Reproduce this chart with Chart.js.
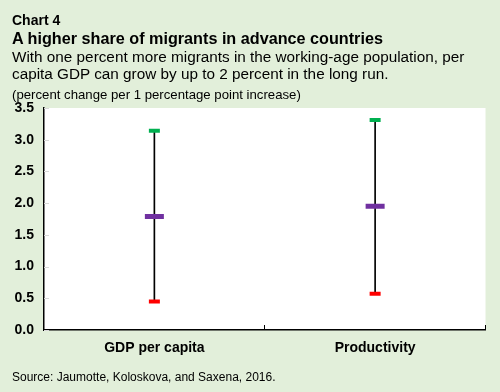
<!DOCTYPE html>
<html>
<head>
<meta charset="utf-8">
<script src="https://cdn.jsdelivr.net/npm/chart.js@4.4.0/dist/chart.umd.min.js"></script>
<style>
  body { margin: 0; background: #e2efda; font-family: "Liberation Sans", Arial, sans-serif; color: #000; }
  #page { position: relative; width: 500px; height: 392px; overflow: hidden; }
  .txt { position: absolute; left: 12px; white-space: nowrap; }
  #kicker { top: 12px; font-size: 14px; font-weight: bold; }
  #title { top: 29px; font-size: 16.2px; font-weight: bold; }
  #sub { top: 48px; font-size: 15.3px; line-height: 17px; }
  #units { top: 87px; font-size: 13.2px; }
  #source { top: 370px; font-size: 12px; }
  #wrap { position: absolute; left: 0; top: 0; width: 500px; height: 392px; }
</style>
</head>
<body>
<div id="page">
  <div id="wrap"><canvas id="chart"></canvas></div>
  <div class="txt" id="kicker">Chart 4</div>
  <div class="txt" id="title">A higher share of migrants in advance countries</div>
  <div class="txt" id="sub">With one percent more migrants in the working-age population, per<br>capita GDP can grow by up to 2 percent in the long run.</div>
  <div class="txt" id="units">(percent change per 1 percentage point increase)</div>
  <div class="txt" id="source">Source: Jaumotte, Koloskova, and Saxena, 2016.</div>
</div>
<script>
        const categories = ['GDP per capita', 'Productivity'];
        const upperBound = [3.14, 3.31];
        const estimate = [1.79, 1.95];
        const lowerBound = [0.45, 0.57];
        const yTicks = [0, 0.5, 1, 1.5, 2, 2.5, 3, 3.5];

        const plotBackground = 
        {
            id: 'plotBackground',
            beforeDraw(chart) 
            {
                const { ctx, chartArea: a } = chart;
                ctx.save();
                ctx.fillStyle = '#ffffff';
                ctx.fillRect(a.left, a.top, a.right - a.left, a.bottom - a.top);
                ctx.restore();
            },
            afterDraw(chart) 
            {
                // small inward tick marks like the original
                const { ctx, chartArea: a, scales } = chart;
                ctx.save();
                ctx.lineWidth = 1;
                ctx.strokeStyle = '#d8d8d8';
                yTicks.forEach(v => 
                {
                    const y = Math.round(scales.y.getPixelForValue(v)) + 0.5;
                    ctx.beginPath();
                    ctx.moveTo(a.left, y);
                    ctx.lineTo(a.left + 5, y);
                    ctx.stroke();
                });
                ctx.strokeStyle = '#000000';
                for (let i = 0; i < categories.length; i++) 
                {
                    const x = Math.round(scales.x.getPixelForValue(i + 0.5)) - 0.5;
                    ctx.beginPath();
                    ctx.moveTo(x, a.bottom);
                    ctx.lineTo(x, a.bottom - 5);
                    ctx.stroke();
                }
                ctx.restore();
            }
        };

        const ctx = document.getElementById('chart').getContext('2d');
        new Chart(ctx, {
            data: 
            {
                labels: categories,
                datasets: 
                [
                    {
                        type: 'line',
                        data: upperBound,
                        showLine: false,
                        pointStyle: 'line',
                        pointRadius: 5.5,
                        pointBorderWidth: 4,
                        borderColor: '#00b050',
                        order: 1
                    },
                    {
                        type: 'line',
                        data: estimate,
                        showLine: false,
                        pointStyle: 'line',
                        pointRadius: 9.5,
                        pointBorderWidth: 5,
                        borderColor: '#7030a0',
                        order: 1
                    },
                    {
                        type: 'line',
                        data: lowerBound,
                        showLine: false,
                        pointStyle: 'line',
                        pointRadius: 5.5,
                        pointBorderWidth: 4,
                        borderColor: '#ff0000',
                        order: 1
                    },
                    {
                        type: 'bar',
                        data: lowerBound.map((v, i) => [v, upperBound[i]]),
                        backgroundColor: '#000000',
                        barThickness: 1,
                        order: 2
                    }
                ]
            },
            options: 
            {
                responsive: true,
                maintainAspectRatio: false,
                animation: false,
                events: [],
                layout: { padding: { top: 108, right: 12, bottom: 30, left: 0 } },
                plugins: 
                {
                    legend: { display: false },
                    tooltip: { enabled: false }
                },
                scales: 
                {
                    x: 
                    {
                        offset: true,
                        grid: { display: false, drawTicks: false },
                        border: { display: true, color: '#000000', width: 1.5 },
                        ticks: 
                        {
                            color: '#000000',
                            padding: 10,
                            font: { family: 'Liberation Sans', size: 14, weight: 'bold' }
                        },
                        afterFit: s => { s.height = 32; }
                    },
                    y: 
                    {
                        min: 0,
                        max: 3.5,
                        grid: { display: false, drawTicks: false },
                        border: { display: true, color: '#000000', width: 1.5 },
                        afterBuildTicks: s => { s.ticks = yTicks.map(v => ({ value: v })); },
                        ticks: 
                        {
                            color: '#000000',
                            padding: 10,
                            callback: v => v.toFixed(1),
                            font: { family: 'Liberation Sans', size: 14, weight: 'bold' }
                        },
                        afterFit: s => { s.width = 44; }
                    }
                }
            },
            plugins: [plotBackground]
        });
</script>
</body>
</html>
